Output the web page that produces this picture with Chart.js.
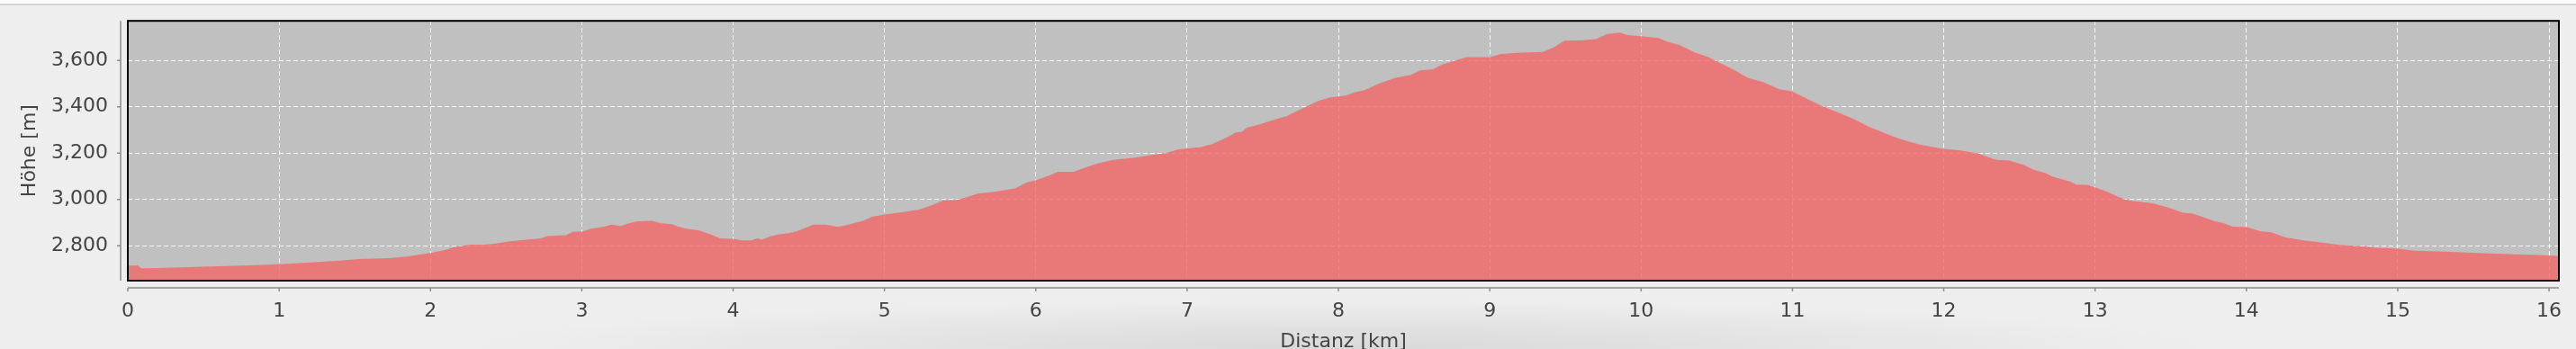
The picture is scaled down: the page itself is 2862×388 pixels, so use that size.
<!DOCTYPE html>
<html>
<head>
<meta charset="utf-8">
<script src="https://cdn.jsdelivr.net/npm/chart.js@4/dist/chart.umd.min.js"></script>
<style>
  html, body { margin: 0; padding: 0; }
  body {
    width: 2862px; height: 388px; overflow: hidden;
    background:
      radial-gradient(ellipse 960px 55px at 52% 100%, rgba(214,214,214,0.9), rgba(238,238,238,0)),
      linear-gradient(to bottom, #fbfbfb 0, #fbfbfb 4px, #d4d4d4 4px, #d4d4d4 6px, #eeeeee 6px);
  }
  #wrap { position: relative; width: 2862px; height: 388px; }
</style>
</head>
<body>
<div id="wrap"><canvas id="profile"></canvas></div>
<script>
// elevation profile
const distKm = [
  0.0, 0.067, 0.09, 0.19, 0.395, 0.6, 0.805, 1.0, 1.214, 1.42, 1.52, 1.727, 1.83,
  2.0, 2.095, 2.157, 2.26, 2.36, 2.44, 2.525, 2.648, 2.73, 2.77, 2.894, 2.945,
  3.0, 3.06, 3.14, 3.197, 3.259, 3.30, 3.36, 3.464, 3.525, 3.597, 3.628, 3.689, 3.771, 3.812, 3.853, 3.914, 3.996,
  4.058, 4.12, 4.16, 4.19, 4.242, 4.304, 4.365, 4.427, 4.529, 4.611, 4.693, 4.775, 4.857, 4.918,
  5.0, 5.103, 5.225, 5.308, 5.39, 5.472, 5.553, 5.615, 5.738, 5.861, 5.943,
  6.004, 6.086, 6.148, 6.25, 6.332, 6.41, 6.512, 6.656, 6.738, 6.86, 6.943,
  7.086, 7.168, 7.25, 7.322, 7.363, 7.393, 7.475, 7.557, 7.66, 7.721, 7.783, 7.865, 7.947,
  8.049, 8.11, 8.172, 8.274, 8.377, 8.479, 8.54, 8.623, 8.684, 8.766, 8.848,
  9.0, 9.073, 9.176, 9.35, 9.422, 9.493, 9.622, 9.704, 9.776, 9.858, 9.909,
  10.0, 10.114, 10.176, 10.257, 10.36, 10.442, 10.524, 10.606, 10.708, 10.81, 10.913,
  11.0, 11.077, 11.18, 11.282, 11.405, 11.507, 11.61, 11.712, 11.835, 11.958,
  12.003, 12.101, 12.224, 12.286, 12.347, 12.429, 12.531, 12.593, 12.675, 12.716, 12.835, 12.876, 12.948,
  13.004, 13.083, 13.186, 13.248, 13.372, 13.476, 13.579, 13.641, 13.703, 13.786, 13.848, 13.91,
  14.005, 14.096, 14.158, 14.261, 14.385, 14.489, 14.613, 14.778, 14.861,
  15.004, 15.109, 15.316, 15.523, 15.73, 15.895, 16.065
];
const elevM = [
  2714, 2714, 2702, 2703, 2707, 2711, 2715, 2720, 2728, 2736, 2742, 2746, 2752,
  2768, 2781, 2794, 2804, 2804, 2810, 2819, 2827, 2832, 2841, 2845, 2861,
  2861, 2873, 2881, 2891, 2885, 2895, 2904, 2907, 2897, 2893, 2884, 2873, 2867, 2858, 2848, 2832, 2830,
  2823, 2823, 2832, 2826, 2839, 2849, 2854, 2864, 2891, 2891, 2881, 2893, 2907, 2925,
  2935, 2943, 2955, 2973, 2996, 2997, 3011, 3025, 3034, 3047, 3073,
  3083, 3103, 3119, 3119, 3139, 3155, 3171, 3180, 3189, 3200, 3216,
  3225, 3240, 3264, 3289, 3292, 3309, 3323, 3341, 3360, 3380, 3399, 3425, 3441,
  3448, 3463, 3472, 3502, 3525, 3538, 3557, 3562, 3582, 3599, 3614,
  3614, 3628, 3633, 3637, 3656, 3685, 3687, 3693, 3714, 3720, 3710,
  3705, 3697, 3680, 3666, 3633, 3615, 3588, 3562, 3524, 3506, 3476,
  3466, 3441, 3408, 3380, 3347, 3313, 3286, 3261, 3238, 3222,
  3217, 3212, 3199, 3184, 3171, 3169, 3148, 3128, 3113, 3099, 3077, 3064, 3063,
  3051, 3032, 3002, 2993, 2984, 2967, 2942, 2939, 2926, 2906, 2898, 2882,
  2880, 2862, 2859, 2835, 2822, 2814, 2803, 2797, 2791,
  2787, 2778, 2774, 2768, 2764, 2761, 2756
];
const xTicks = [0, 1, 2, 3, 4, 5, 6, 7, 8, 9, 10, 11, 12, 13, 14, 15, 16];
const yTicks = [2800, 3000, 3200, 3400, 3600];

Chart.defaults.font.family = '"DejaVu Sans", Verdana, sans-serif';
Chart.defaults.font.size = 22;
Chart.defaults.color = '#444444';

// plot background, black frame and the offset grey axes (JFreeChart look)
const frame = {
  id: 'frame',
  beforeDraw(chart) {
    const { ctx, chartArea: a } = chart;
    ctx.save();
    ctx.fillStyle = '#c0c0c0';
    ctx.fillRect(a.left, a.top, a.right - a.left, a.bottom - a.top);
    ctx.restore();
  },
  afterDraw(chart) {
    const { ctx, chartArea: a, scales: { x, y } } = chart;
    ctx.save();
    ctx.strokeStyle = '#000';
    ctx.lineWidth = 2;
    ctx.strokeRect(a.left, a.top, a.right - a.left, a.bottom - a.top);

    const ax = a.left - 8, ay = a.bottom + 8;
    ctx.strokeStyle = '#8c8c8c';
    ctx.lineWidth = 1.5;
    ctx.beginPath();
    ctx.moveTo(ax, a.top); ctx.lineTo(ax, a.bottom);
    y.ticks.forEach(t => {
      const py = y.getPixelForValue(t.value);
      ctx.moveTo(ax - 4, py); ctx.lineTo(ax, py);
    });
    ctx.moveTo(a.left, ay); ctx.lineTo(a.right, ay);
    x.ticks.forEach(t => {
      const px = x.getPixelForValue(t.value);
      ctx.moveTo(px, ay); ctx.lineTo(px, ay + 4);
    });
    ctx.stroke();
    ctx.restore();
  }
};

new Chart(document.getElementById('profile'), {
  type: 'line',
  data: {
    datasets: [{
      label: 'Höhe',
      data: distKm.map((d, i) => ({ x: d, y: elevM[i] })),
      backgroundColor: 'rgba(242,102,102,0.8)',
      borderWidth: 0,
      pointRadius: 0,
      fill: 'start',
      tension: 0
    }]
  },
  options: {
    responsive: true,
    maintainAspectRatio: false,
    animation: false,
    layout: { padding: { top: 22, right: 19, left: 0, bottom: 0 } },
    plugins: { legend: { display: false }, tooltip: { enabled: false } },
    scales: {
      x: {
        type: 'linear',
        min: 0,
        max: 16.065,
        afterBuildTicks: s => { s.ticks = xTicks.map(v => ({ value: v })); },
        afterFit: s => { s.height = 76; },
        grid: { color: 'rgba(255,255,255,0.9)', lineWidth: 1, tickLength: 12, tickColor: 'transparent' },
        border: { display: false, dash: [5, 3] },
        ticks: { autoSkip: false, maxRotation: 0, padding: 9, callback: v => String(v) },
        title: { display: true, text: 'Distanz [km]', padding: { top: 0, bottom: -5 } }
      },
      y: {
        min: 2649,
        max: 3771,
        afterBuildTicks: s => { s.ticks = yTicks.map(v => ({ value: v })); },
        afterFit: s => { s.width = 142; },
        grid: { color: 'rgba(255,255,255,0.9)', lineWidth: 1, tickLength: 12, tickColor: 'transparent' },
        border: { display: false, dash: [5, 3] },
        ticks: { padding: 10, callback: v => v.toLocaleString('en-US') },
        title: { display: true, text: 'Höhe [m]', padding: { top: 20, bottom: 0 } }
      }
    }
  },
  plugins: [frame]
});
</script>
</body>
</html>
